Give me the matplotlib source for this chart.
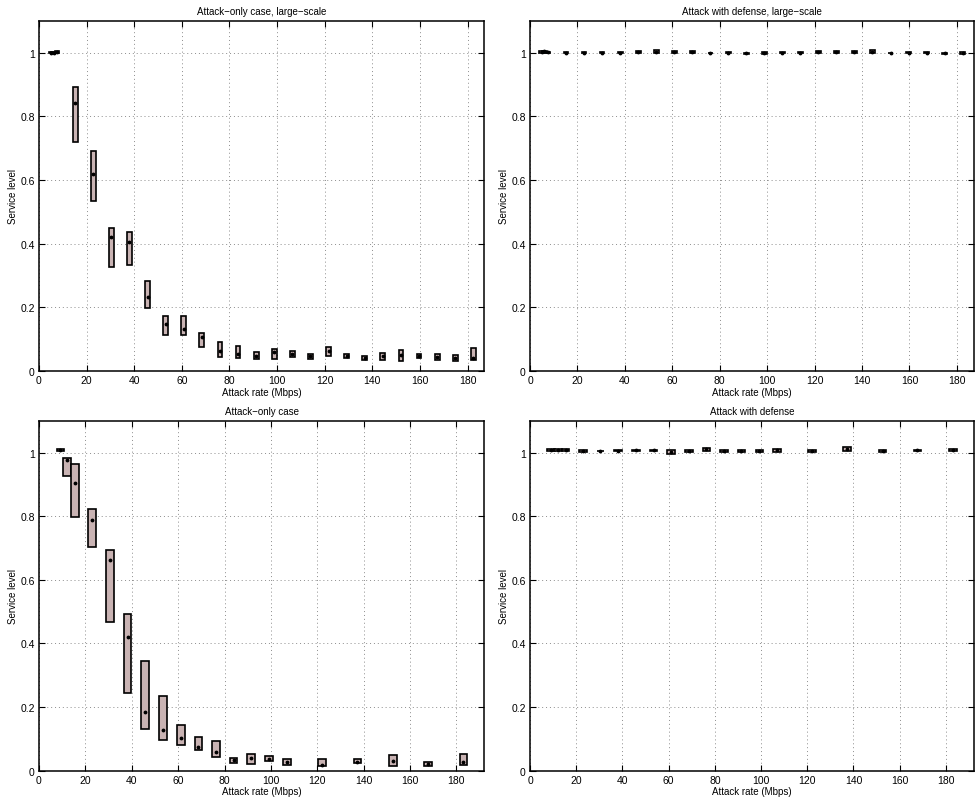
import numpy as np
import matplotlib
matplotlib.use('Agg')
import matplotlib.pyplot as plt

plt.rcParams['font.family'] = ['Liberation Sans', 'DejaVu Sans']

# attack rates (Mbps)
rates_large = [5.0, 6.1, 7.6, 15.2, 22.8, 30.4, 38.0, 45.6, 53.2, 60.8, 68.4, 76.0, 83.6,
               91.2, 98.8, 106.4, 114.0, 121.6, 129.2, 136.8, 144.4, 152.0, 159.6, 167.2,
               174.8, 182.4]
rates_small = [9.2, 12.2, 15.4, 22.9, 30.5, 38.2, 45.8, 53.5, 61.1, 68.7, 76.4, 83.9,
               91.5, 99.3, 106.9, 122.0, 137.3, 152.6, 167.7, 183.0]

# attack-only, large-scale
lo_att_large = [0.997, 0.998, 1.000, 0.720, 0.534, 0.327, 0.333, 0.197, 0.112, 0.114, 0.076,
                0.043, 0.041, 0.038, 0.038, 0.043, 0.038, 0.046, 0.042, 0.034, 0.034, 0.033,
                0.041, 0.036, 0.032, 0.034]
hi_att_large = [1.001, 1.002, 1.006, 0.891, 0.691, 0.448, 0.436, 0.283, 0.173, 0.173, 0.118,
                0.092, 0.079, 0.059, 0.069, 0.064, 0.055, 0.076, 0.052, 0.048, 0.056, 0.066,
                0.054, 0.052, 0.050, 0.071]
med_att_large = [0.999, 1.000, 1.003, 0.843, 0.618, 0.421, 0.405, 0.233, 0.147, 0.132, 0.106,
                 0.064, 0.055, 0.048, 0.061, 0.055, 0.046, 0.064, 0.048, 0.041, 0.046, 0.050,
                 0.048, 0.045, 0.041, 0.041]

# attack with defense, large-scale
lo_def_large = [0.999, 1.000, 0.998, 0.998, 0.997, 0.997, 0.997, 0.998, 0.999, 0.998, 0.998,
                0.997, 0.997, 0.996, 0.996, 0.997, 0.997, 0.997, 1.000, 0.998, 0.998, 0.997,
                0.997, 0.997, 0.995, 0.996]
hi_def_large = [1.005, 1.006, 1.003, 1.003, 1.001, 1.002, 1.003, 1.004, 1.007, 1.006, 1.005,
                1.000, 1.002, 0.999, 1.002, 1.003, 1.003, 1.004, 1.004, 1.004, 1.007, 1.000,
                1.002, 1.002, 1.000, 1.001]
med_def_large = [1.003, 1.004, 1.001, 1.000, 0.999, 0.999, 1.000, 1.001, 1.003, 1.002, 1.002,
                 0.999, 1.000, 0.998, 0.999, 1.000, 1.000, 1.001, 1.002, 1.001, 1.003, 0.999,
                 1.000, 0.999, 0.998, 0.999]

# attack-only
lo_att = [1.005, 0.927, 0.797, 0.702, 0.468, 0.243, 0.130, 0.097, 0.081, 0.065, 0.044, 0.024,
          0.022, 0.030, 0.018, 0.016, 0.024, 0.015, 0.016, 0.017]
hi_att = [1.010, 0.984, 0.965, 0.823, 0.693, 0.494, 0.344, 0.236, 0.145, 0.105, 0.094, 0.041,
          0.052, 0.045, 0.036, 0.038, 0.038, 0.049, 0.026, 0.052]
med_att = [1.007, 0.977, 0.903, 0.787, 0.663, 0.419, 0.183, 0.129, 0.103, 0.076, 0.058, 0.035,
           0.039, 0.037, 0.027, 0.019, 0.026, 0.030, 0.021, 0.027]

# attack with defense
lo_def = [1.005, 1.005, 1.005, 1.003, 1.004, 1.004, 1.004, 1.004, 0.997, 1.003, 1.004, 1.003,
          1.003, 1.003, 1.003, 1.003, 1.004, 1.003, 1.004, 1.004]
hi_def = [1.010, 1.010, 1.010, 1.009, 1.006, 1.008, 1.009, 1.009, 1.008, 1.009, 1.014, 1.007,
          1.007, 1.007, 1.010, 1.007, 1.018, 1.007, 1.009, 1.010]
med_def = [1.007, 1.007, 1.007, 1.006, 1.005, 1.006, 1.007, 1.007, 1.002, 1.006, 1.010, 1.005,
           1.005, 1.005, 1.007, 1.005, 1.012, 1.005, 1.007, 1.007]

box_color = '#c9b3b3'

panels = [
    ('Attack\u2212only case, large\u2212scale', rates_large, lo_att_large, hi_att_large, med_att_large,
     [0.040, 0.5367, 0.4567, 0.4363], 2.0, 187),
    ('Attack with defense, large\u2212scale', rates_large, lo_def_large, hi_def_large, med_def_large,
     [0.5436, 0.5367, 0.4549, 0.4363], 2.0, 187),
    ('Attack\u2212only case', rates_small, lo_att, hi_att, med_att,
     [0.040, 0.039, 0.4567, 0.4358], 3.3, 192),
    ('Attack with defense', rates_small, lo_def, hi_def, med_def,
     [0.5436, 0.039, 0.4549, 0.4358], 3.3, 192),
]

fig = plt.figure(figsize=(9.75, 8.03), dpi=100)

for title, x, lo, hi, med, pos, w, xmax in panels:
    ax = fig.add_axes(pos)
    x = np.array(x)
    lo = np.array(lo)
    hi = np.array(hi)
    ax.bar(x, hi - lo, width=w, bottom=lo, color=box_color, edgecolor='k',
           linewidth=1.2, zorder=3)
    ax.plot(x, med, 'k.', markersize=3.5, zorder=4)

    ax.set_xlim(0, xmax)
    ax.set_ylim(0, 1.1)
    ax.set_xticks(np.arange(0, 181, 20))
    ax.set_yticks([0, 0.2, 0.4, 0.6, 0.8, 1])
    ax.set_yticklabels(['0', '0.2', '0.4', '0.6', '0.8', '1'])
    ax.grid(True, linestyle=(0, (1, 3)), color='0.55', linewidth=0.7)
    ax.set_axisbelow(True)

    ax.tick_params(direction='in', top=True, right=True, length=4, width=0.8,
                   labelsize=7.5, pad=3)
    for s in ax.spines.values():
        s.set_linewidth(1.1)

    ax.set_title(title, fontsize=7, pad=5)
    ax.set_xlabel('Attack rate (Mbps)', fontsize=7, labelpad=1)
    ax.set_ylabel('Service level', fontsize=7, labelpad=2)

fig.savefig('out.png', dpi=100)
